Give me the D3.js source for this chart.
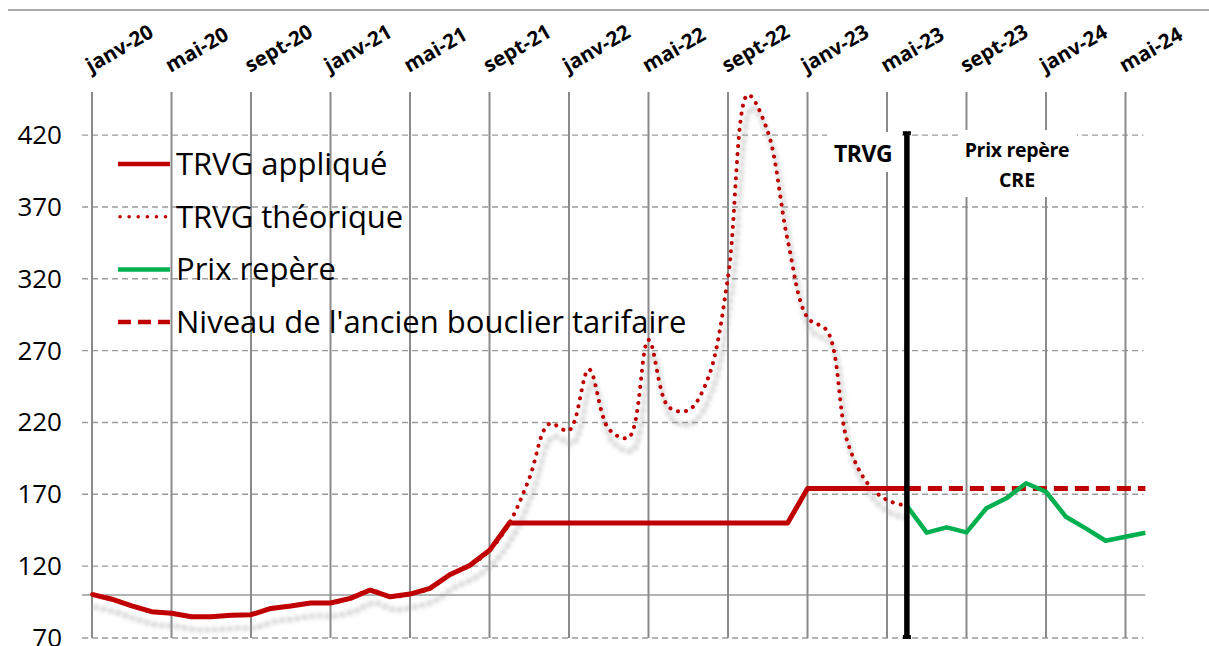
<!DOCTYPE html>
<html lang="fr">
<head>
<meta charset="UTF-8">
<title>TRVG et prix repère</title>
<script src="https://cdn.jsdelivr.net/npm/d3@7"></script>
<style>
  html, body { margin: 0; padding: 0; background: #fff; }
  svg text { font-family: "Open Sans", "Noto Sans", sans-serif; }
</style>
</head>
<body>
<svg id="viz" width="1209" height="646"></svg>
<script>
    // month labels of the top axis (one every 4 months, index = months since janv-20)
    var tickLabels = ["janv-20", "mai-20", "sept-20", "janv-21", "mai-21", "sept-21", "janv-22",
        "mai-22", "sept-22", "janv-23", "mai-23", "sept-23", "janv-24", "mai-24"];
    var tickMonths = [0, 4, 8, 12, 16, 20, 24, 28, 32, 36, 40, 44, 48, 52];
    var yTicks = [70, 120, 170, 220, 270, 320, 370, 420];

    // TRVG appliqué, janv-20 .. juin-23
    var trvgApplique = [100.4, 97, 92.3, 88.3, 87.2, 84.8, 84.8, 85.8, 86.2, 90.6, 92.3, 94.4,
        94.4, 97.6, 103.4, 98.7, 100.6, 104.5, 114, 120.5, 131, 150,
        150, 150, 150, 150, 150, 150, 150, 150, 150, 150, 150, 150, 150, 150,
        174, 174, 174, 174, 174, 174];
    // TRVG théorique, janv-20 .. juin-23
    var trvgTheorique = [100.4, 97, 92.3, 88.3, 87.2, 84.8, 84.8, 85.8, 86.2, 90.6, 92.3, 94.4,
        94.4, 97.6, 103.4, 98.7, 100.6, 104.5, 114, 120.5, 131, 150,
        181, 219, 214.5, 257, 215.5, 209.5, 277.5, 231, 228.5, 251, 321, 448,
        422.5, 347, 293, 283.5, 207, 178, 166, 162];
    // prix repère CRE, juin-23 .. juin-24
    var prixRepere = [162, 143.3, 147, 143.5, 160.3, 167.2, 177.7, 171.8, 154.4, 146.3, 137.7, 140.5, 143.3];
    var bouclier = [174, 174, 174, 174, 174, 174, 174, 174, 174, 174, 174, 174, 174];
    var startTrvg = 0;     // janv-20
    var startRepere = 41;  // juin-23
    var finTrvg = 41;      // fin des TRVG

    var legendItems = [
        {label: "TRVG appliqué", color: "#c00000", style: "solid"},
        {label: "TRVG théorique", color: "#c00000", style: "dot"},
        {label: "Prix repère", color: "#00b050", style: "solid"},
        {label: "Niveau de l'ancien bouclier tarifaire", color: "#c00000", style: "dash"}
    ];

    var red = "#c00000", green = "#00b050";
    var svg = d3.select('#viz');

    var x = d3.scaleLinear().domain([0, 52]).range([92, 1125.5]);
    var y = d3.scaleLinear().domain([70, 450]).range([638, 92]);

    var defs = svg.append('defs');
    defs.append('filter').attr('id', 'blur')
        .attr('x', '-10%').attr('y', '-10%').attr('width', '120%').attr('height', '120%')
        .append('feGaussianBlur').attr('stdDeviation', 2.2);

    // top frame line
    svg.append('line')
        .attr('x1', 8).attr('x2', 1209).attr('y1', 10).attr('y2', 10)
        .attr('stroke', '#8c8c8c').attr('stroke-width', 1.5);

    // horizontal dashed grid
    svg.append('g').selectAll('line').data(yTicks).enter()
        .append('line')
        .attr('x1', x(-0.5)).attr('x2', x(52.9))
        .attr('y1', function (d) { return y(d); })
        .attr('y2', function (d) { return y(d); })
        .attr('stroke', '#9a9a9a').attr('stroke-width', 1.4)
        .attr('stroke-dasharray', '6,4');

    // base line at 100
    svg.append('line')
        .attr('x1', x(-0.5)).attr('x2', x(53))
        .attr('y1', y(100)).attr('y2', y(100))
        .attr('stroke', '#9a9a9a').attr('stroke-width', 1.5);

    // vertical grid
    svg.append('g').selectAll('line').data(tickMonths).enter()
        .append('line')
        .attr('x1', function (d) { return x(d); })
        .attr('x2', function (d) { return x(d); })
        .attr('y1', y(450)).attr('y2', y(70))
        .attr('stroke', '#8a8a8a').attr('stroke-width', 2);

    // y labels
    svg.append('g').selectAll('text').data(yTicks).enter()
        .append('text')
        .attr('x', 62)
        .attr('y', function (d) { return y(d) + 9; })
        .attr('text-anchor', 'end')
        .attr('font-size', 26)
        .attr('fill', '#000')
        .text(function (d) { return d; });

    // x labels, rotated
    svg.append('g').selectAll('text').data(tickMonths).enter()
        .append('text')
        .attr('transform', function (d) { return 'translate(' + (x(d) - 1) + ',73) rotate(-30)'; })
        .attr('font-size', 20.5)
        .attr('font-weight', 'bold')
        .attr('fill', '#000')
        .text(function (d, i) { return tickLabels[i]; });

    var line = d3.line()
        .x(function (d) { return x(d.m); })
        .y(function (d) { return y(d.v); });
    var smooth = d3.line()
        .x(function (d) { return x(d.m); })
        .y(function (d) { return y(d.v); })
        .curve(d3.curveCatmullRom.alpha(0.5));

    function toPoints(arr, start) {
        return arr.map(function (v, i) { return {m: start + i, v: v}; });
    }

    // shadow of théorique
    svg.append('path')
        .datum(toPoints(trvgTheorique, startTrvg))
        .attr('d', smooth)
        .attr('fill', 'none')
        .attr('stroke', '#999')
        .attr('stroke-opacity', 0.6)
        .attr('stroke-width', 5)
        .attr('stroke-linecap', 'round')
        .attr('stroke-dasharray', '0.1,7.5')
        .attr('transform', 'translate(4,13)')
        .attr('filter', 'url(#blur)');

    // TRVG théorique (dotted)
    svg.append('path')
        .datum(toPoints(trvgTheorique, startTrvg))
        .attr('d', smooth)
        .attr('fill', 'none')
        .attr('stroke', red)
        .attr('stroke-width', 4)
        .attr('stroke-linecap', 'round')
        .attr('stroke-dasharray', '0.1,8');

    // TRVG appliqué
    svg.append('path')
        .datum(toPoints(trvgApplique, startTrvg))
        .attr('d', line)
        .attr('fill', 'none')
        .attr('stroke', red)
        .attr('stroke-width', 5)
        .attr('stroke-linejoin', 'round');

    // ancien bouclier
    svg.append('path')
        .datum(toPoints(bouclier, startRepere))
        .attr('d', line)
        .attr('fill', 'none')
        .attr('stroke', red)
        .attr('stroke-width', 5)
        .attr('stroke-dasharray', '14,7');

    // prix repère
    svg.append('path')
        .datum(toPoints(prixRepere, startRepere))
        .attr('d', line)
        .attr('fill', 'none')
        .attr('stroke', green)
        .attr('stroke-width', 4.5)
        .attr('stroke-linejoin', 'round');

    // annotations with white boxes
    svg.append('rect').attr('x', 827).attr('y', 132).attr('width', 72).attr('height', 40).attr('fill', '#fff');
    svg.append('text').attr('x', 863).attr('y', 162)
        .attr('text-anchor', 'middle').attr('font-size', 23).attr('font-weight', 'bold')
        .attr('letter-spacing', -0.5)
        .text('TRVG');
    svg.append('rect').attr('x', 958).attr('y', 130).attr('width', 119).attr('height', 67).attr('fill', '#fff');
    svg.append('text').attr('x', 1017).attr('y', 157)
        .attr('text-anchor', 'middle').attr('font-size', 19.5).attr('font-weight', 'bold')
        .attr('letter-spacing', -0.3)
        .text('Prix repère');
    svg.append('text').attr('x', 1017).attr('y', 187)
        .attr('text-anchor', 'middle').attr('font-size', 19.5).attr('font-weight', 'bold')
        .text('CRE');

    // fin des TRVG
    svg.append('line')
        .attr('x1', x(finTrvg)).attr('x2', x(finTrvg))
        .attr('y1', y(422)).attr('y2', y(70))
        .attr('stroke', '#000').attr('stroke-width', 5.5);
    svg.append('rect').attr('x', x(finTrvg) - 4).attr('y', y(422) - 1).attr('width', 8).attr('height', 4).attr('fill', '#000');
    svg.append('rect').attr('x', x(finTrvg) - 4).attr('y', y(70) - 3).attr('width', 8).attr('height', 4).attr('fill', '#000');

    // legend
    var legend = svg.append('g').selectAll('g').data(legendItems).enter()
        .append('g')
        .attr('transform', function (d, i) { return 'translate(118,' + (164 + i * 52.7) + ')'; });
    legend.append('line')
        .attr('x1', function (d) { return d.style === 'dot' ? 2 : 0; })
        .attr('x2', 52).attr('y1', 0).attr('y2', 0)
        .attr('stroke', function (d) { return d.color; })
        .attr('stroke-width', function (d) { return d.style === 'dot' ? 3.5 : 4.5; })
        .attr('stroke-linecap', function (d) { return d.style === 'dot' ? 'round' : 'butt'; })
        .attr('stroke-dasharray', function (d) {
            return d.style === 'dot' ? '0.1,9' : (d.style === 'dash' ? '13,7' : null);
        });
    legend.append('text')
        .attr('x', 58).attr('y', 11)
        .attr('font-size', 31)
        .attr('fill', '#000')
        .text(function (d) { return d.label; });
</script>
</body>
</html>
